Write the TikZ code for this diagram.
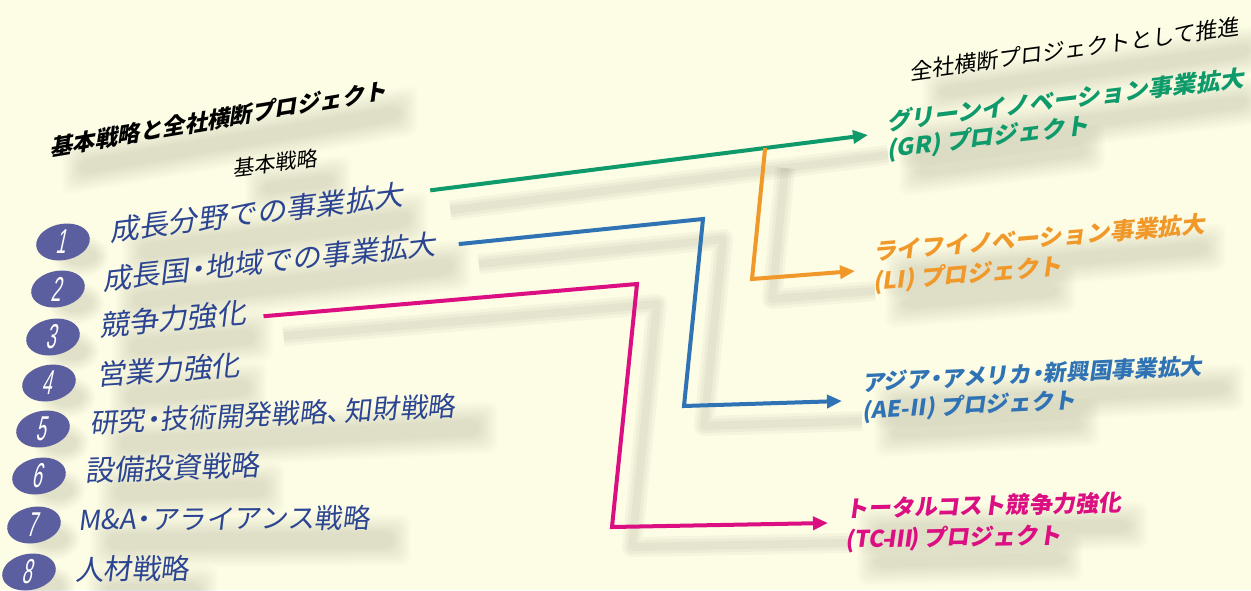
\documentclass[tikz,border=0pt]{standalone}
\usepackage{fontspec}
\usepackage{graphicx}
\setmainfont{Noto Sans CJK JP}
\newfontfamily\numfont{Liberation Sans}
\usetikzlibrary{arrows.meta,shapes.geometric,calc}
\pgfdeclarelayer{bg}
\pgfsetlayers{bg,main}
\definecolor{bgc}{HTML}{FDFCE4}
\definecolor{itemblue}{HTML}{2B4592}
\definecolor{circ}{HTML}{5C5F9F}
\definecolor{grc}{HTML}{0E9A6A}
\definecolor{lic}{HTML}{F0982A}
\definecolor{aec}{HTML}{2F73B5}
\definecolor{tcc}{HTML}{DB0E82}
\newcommand\dt{\kern-0.22em・\kern-0.22em}
\newcommand\tshadow[5]{%
  \begin{scope}[shift={(#1,#2)}, yslant=#4]
    \foreach \r in {0,2,...,18}{\fill[black,opacity=0.013,rounded corners=10pt] ({10-\r},{6-#5-\r}) rectangle ({#3-10+\r},{\r-2});}
  \end{scope}}
\newcommand\cshadow[2]{%
  \foreach \r in {0,2,...,12}{\fill[black,opacity=0.016] (#1,#2) ellipse [x radius={16+\r}, y radius={9+\r}];}}
\begin{document}
\begin{tikzpicture}[x=1pt,y=-1pt,
  txt/.style={anchor=base west, inner sep=0pt, outer sep=0pt, transform shape},
  item/.style={txt, text=itemblue, font=\fontsize{28.5}{30}\selectfont, xslant=0.12},
  proj/.style={txt, font=\fontsize{23.5}{26}\selectfont\bfseries, xslant=0.14},
  numc/.style={ellipse, fill=circ, minimum width=53pt, minimum height=37pt, inner sep=0pt,
    text=white, transform shape, xslant=0.22, font=\numfont\fontsize{30}{30}\selectfont},
  conn/.style={line width=4pt},
  tip/.style={-{Triangle[length=15pt,width=13pt]}},
  lsh/.style={black, opacity=0.03, line join=round, transform canvas={shift={(20,20)}}},
]
\useasboundingbox (0,0) rectangle (1251,590);

% titles
\node[txt, font=\fontsize{22.5}{24}\selectfont\bfseries, yslant=0.17, xslant=0.15] (title) at (50,156) {基本戦略と全社横断プロジェクト};
\node[txt, font=\fontsize{21}{23}\selectfont, yslant=0.12, xslant=0.08] (sub) at (233,176) {基本戦略};
\node[txt, font=\fontsize{22}{24}\selectfont, yslant=0.137, xslant=0.05] (tr) at (910,80) {全社横断プロジェクトとして推進};

% numbers
\node[numc] (n1) at (63,242) {\scalebox{0.6}[1.15]{1}};
\node[numc] (n2) at (58,289) {\scalebox{0.6}[1.15]{2}};
\node[numc] (n3) at (53,337) {\scalebox{0.6}[1.15]{3}};
\node[numc] (n4) at (49,383) {\scalebox{0.6}[1.15]{4}};
\node[numc] (n5) at (43,429) {\scalebox{0.6}[1.15]{5}};
\node[numc] (n6) at (39,476) {\scalebox{0.6}[1.15]{6}};
\node[numc] (n7) at (34,525) {\scalebox{0.6}[1.15]{7}};
\node[numc] (n8) at (29,572) {\scalebox{0.6}[1.15]{8}};

% strategy items
\node[item, font=\fontsize{29}{30}\selectfont, yslant=0.123] (it1) at (110,241) {成長分野での事業拡大};
\node[item, yslant=0.109] (it2) at (103,290) {成長国\dt 地域での事業拡大};
\node[item, font=\fontsize{29}{30}\selectfont, yslant=0.088] (it3) at (100,336) {競争力強化};
\node[item, yslant=0.07] (it4) at (97,385) {営業力強化};
\node[item, font=\fontsize{27.5}{30}\selectfont, yslant=0.047] (it5) at (90,433) {研究\dt 技術開発戦略、\kern-0.35em知財戦略};
\node[item, font=\fontsize{29}{30}\selectfont, yslant=0.029] (it6) at (85,481) {設備投資戦略};
\node[item, font=\fontsize{27.5}{30}\selectfont, yslant=0.007] (it7) at (78,530) {M\&A\dt アライアンス戦略};
\node[item, yslant=0.005] (it8) at (75,580) {人材戦略};

% project labels
\node[proj, text=grc, yslant=0.125] (gr1) at (887,130) {グリーンイノベーション事業拡大};
\node[proj, text=grc, yslant=0.125] (gr2) at (887,158) {(GR) プロジェクト};
\node[proj, text=lic, yslant=0.083] (li1) at (873,260) {ライフイノベーション事業拡大};
\node[proj, text=lic, yslant=0.083] (li2) at (873,290) {(LI) プロジェクト};
\node[proj, text=aec, font=\fontsize{22.5}{26}\selectfont\bfseries, yslant=0.05] (ae1) at (862,391) {アジア\dt アメリカ\dt 新興国事業拡大};
\node[proj, text=aec, font=\fontsize{22.5}{26}\selectfont\bfseries, yslant=0.05] (ae2) at (862,419) {(AE-\kern-0.12emⅡ\kern-0.12em) プロジェクト};
\node[proj, text=tcc, font=\fontsize{23}{26}\selectfont\bfseries, yslant=0.02] (tc1) at (845,517) {トータルコスト競争力強化};
\node[proj, text=tcc, font=\fontsize{23}{26}\selectfont\bfseries, yslant=0.02] (tc2) at (845,548) {(TC-\kern-0.12emⅢ\kern-0.12em) プロジェクト};

% connector points
\coordinate (gS) at ([shift={(26,-15)}]it1.base east);
\coordinate (gT) at ([shift={(-19,5)}]gr1.base west);
\coordinate (gB) at ($(gS)!0.765!(gT)$);
\coordinate (lK) at (752,279);
\coordinate (lT) at ([shift={(-18,11)}]li1.base west);
\coordinate (bS) at ([shift={(22,-10)}]it2.base east);
\coordinate (bK1) at (703,219);
\coordinate (bK2) at (684,406);
\coordinate (bT) at ([shift={(-20,10)}]ae1.base west);
\coordinate (mS) at ([shift={(17,-7)}]it3.base east);
\coordinate (mK1) at (637,284);
\coordinate (mK2) at (612,527);
\coordinate (mT) at ([shift={(-17,6)}]tc1.base west);

\draw[conn, grc, tip] (gS) -- (gT);
\draw[conn, lic, tip] (gB) -- (lK) -- (lT);
\draw[conn, aec, tip] (bS) -- (bK1) -- (bK2) -- (bT);
\draw[conn, tcc, tip] (mS) -- (mK1) -- (mK2) -- (mT);

\begin{pgfonlayer}{bg}
\fill[bgc] (0,0) rectangle (1251,590);
\foreach \w in {20,14,8}{
  \draw[lsh, line width=\w pt] (gS) -- (gT);
  \draw[lsh, line width=\w pt] (gB) -- (lK) -- (lT);
  \draw[lsh, line width=\w pt] (bS) -- (bK1) -- (bK2) -- (bT);
  \draw[lsh, line width=\w pt] (mS) -- (mK1) -- (mK2) -- (mT);
}
\tshadow{70}{178}{340}{0.17}{22}
\tshadow{253}{198}{90}{0.12}{20}
\tshadow{930}{102}{330}{0.137}{20}
\tshadow{130}{263}{290}{0.123}{24}
\tshadow{123}{312}{340}{0.109}{24}
\tshadow{120}{358}{145}{0.088}{24}
\tshadow{117}{407}{142}{0.07}{24}
\tshadow{110}{455}{380}{0.047}{24}
\tshadow{105}{503}{172}{0.029}{24}
\tshadow{98}{552}{305}{0.007}{24}
\tshadow{95}{602}{115}{0.005}{24}
\tshadow{907}{152}{350}{0.125}{20}
\tshadow{907}{180}{190}{0.125}{20}
\tshadow{893}{282}{325}{0.083}{20}
\tshadow{893}{312}{175}{0.083}{20}
\tshadow{882}{413}{355}{0.05}{20}
\tshadow{882}{441}{210}{0.05}{20}
\tshadow{865}{539}{275}{0.02}{20}
\tshadow{865}{570}{210}{0.02}{20}
\cshadow{81}{256}
\cshadow{76}{303}
\cshadow{71}{351}
\cshadow{67}{397}
\cshadow{61}{443}
\cshadow{57}{490}
\cshadow{52}{539}
\cshadow{47}{586}
\end{pgfonlayer}
\end{tikzpicture}
\end{document}
